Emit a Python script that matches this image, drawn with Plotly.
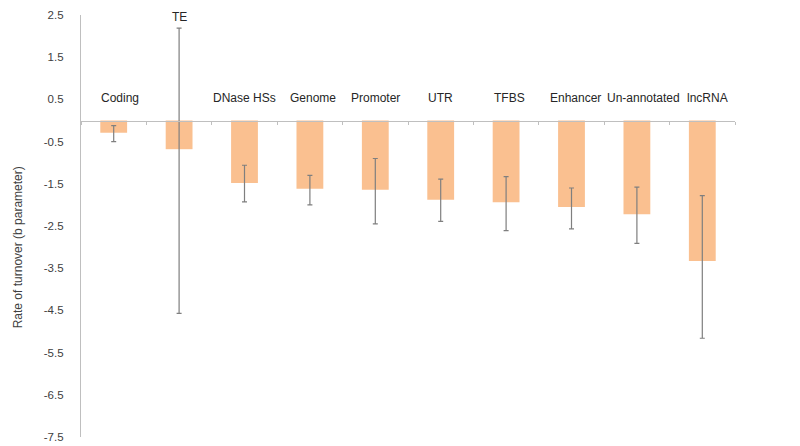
import plotly.graph_objects as go

categories = ["Coding", "TE", "DNase HSs", "Genome", "Promoter", "UTR",
              "TFBS", "Enhancer", "Un-annotated", "lncRNA"]
values = [-0.29, -0.68, -1.48, -1.62, -1.64, -1.88, -1.94, -2.05, -2.22, -3.33]
err_plus = [0.17, 2.87, 0.42, 0.32, 0.74, 0.49, 0.61, 0.45, 0.64, 1.55]
err_minus = [0.21, 3.89, 0.45, 0.38, 0.81, 0.51, 0.67, 0.52, 0.69, 1.83]
y_ticks = [2.5, 1.5, 0.5, -0.5, -1.5, -2.5, -3.5, -4.5, -5.5, -6.5, -7.5]
y_title = "Rate of turnover (b parameter)"

AXIS = "#BFBFBF"
FONT = "Liberation Sans, Arial, sans-serif"
Y_MIN, Y_MAX = -7.5, 2.5

fig = go.Figure()
fig.add_trace(go.Bar(
    x=categories, y=values,
    marker=dict(color="#FAC090", line=dict(width=0)),
    error_y=dict(type="data", symmetric=False, array=err_plus, arrayminus=err_minus,
                 color="#7F7F7F", thickness=1.2, width=2.5),
    showlegend=False,
))


def yfrac(v):
    return (v - Y_MIN) / (Y_MAX - Y_MIN)


annotations = []
label_shift = [6, 0, 0, 3, 0, 0, 3, 4, 7, 5]
for i, c in enumerate(categories):
    if c == "TE":
        pos = dict(y=1.0166, yanchor="top")
    else:
        pos = dict(y=yfrac(0.53), yanchor="middle")
    annotations.append(dict(
        x=c, xref="x", yref="paper", xanchor="center", **pos,
        text=c, showarrow=False, xshift=label_shift[i],
        font=dict(family=FONT, size=12, color="#262626"),
    ))
annotations.append(dict(
    x=-0.096, xref="paper", y=yfrac(-3.0), yref="paper", text=y_title, textangle=-90,
    showarrow=False, font=dict(family=FONT, size=12, color="#404040"),
    xanchor="center", yanchor="middle",
))

fig.update_layout(
    width=800, height=446,
    margin=dict(l=73, r=73, t=7, b=17),
    paper_bgcolor="white", plot_bgcolor="white",
    bargap=0.59,
    font=dict(family=FONT, size=11, color="#404040"),
    annotations=annotations,
    xaxis=dict(
        anchor="free", position=0.75, automargin=False,
        showline=True, linecolor=AXIS, linewidth=1.3,
        ticks="outside", tickson="boundaries", ticklen=3, tickcolor=AXIS,
        showticklabels=False, showgrid=False, zeroline=False,
    ),
    yaxis=dict(
        range=[Y_MIN, Y_MAX], tickvals=y_ticks, ticktext=[str(v) for v in y_ticks],
        automargin=False,
        showline=True, linecolor=AXIS, linewidth=1.3,
        ticks="", showgrid=False, zeroline=False,
        ticklabelstandoff=14,
        tickfont=dict(family=FONT, size=11.5, color="#404040"),
    ),
)

fig.write_html("out.html")
